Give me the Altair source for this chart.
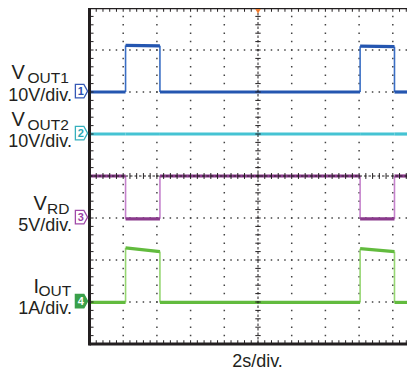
import altair as alt
import pandas as pd

# ---------------- data (screen units: x in divisions of 2 s, y in divisions from bottom) -------------
channels = ["VOUT1", "VOUT2", "VRD", "IOUT"]
edge_times = [1.07, 2.09, 8.03, 9.05]
t_first = 0.0

vout1_from = [6.00, 7.11, 6.00, 7.09, 6.00]
vout1_to = [6.00, 7.10, 6.00, 7.08, 6.00]
vout2_from = [5.00, 5.00, 5.00, 5.00, 5.00]
vout2_to = [5.00, 5.00, 5.00, 5.00, 5.00]
vrd_from = [4.00, 2.98, 4.00, 2.98, 4.00]
vrd_to = [4.00, 2.98, 4.00, 2.98, 4.00]
iout_from = [0.99, 2.29, 0.99, 2.27, 0.99]
iout_to = [0.99, 2.20, 0.99, 2.20, 0.99]

marker_levels = [6.0, 5.0, 3.0, 1.0]
marker_labels = ["1", "2", "3", "4"]

grid_x = [1, 2, 3, 4, 6, 7, 8, 9]
grid_y = [1, 2, 3, 5, 6, 7]
minor_x = [round(0.2 * i, 1) for i in range(1, 49)]
minor_y = [round(0.2 * i, 1) for i in range(1, 40)]

trace_from = {"VOUT1": vout1_from, "VOUT2": vout2_from, "VRD": vrd_from, "IOUT": iout_from}
trace_to = {"VOUT1": vout1_to, "VOUT2": vout2_to, "VRD": vrd_to, "IOUT": iout_to}

# ---------------- styles ----------------
trace_color = {"VOUT1": "#2456b0", "VOUT2": "#45c3d3", "VRD": "#8a3a8c", "IOUT": "#62bb3e"}
edge_color = {"VOUT1": "#3a6ec4", "VOUT2": "#45c3d3", "VRD": "#c582cc", "IOUT": "#96d672"}
marker_fill = ["white", "white", "white", "#3aa04a"]
marker_text = ["#2a4fb0", "#2aa7b5", "#9b3fa5", "white"]
marker_stroke = ["#3558b5", "#35b0bd", "#a04aa8", "#3aa04a"]
INK = "#231f20"
FONT = "Liberation Sans"

W, H = 399, 361
PX_X, PX_Y = 33.7, 42.0
XMIN = -81.5 / PX_X
XMAX = XMIN + W / PX_X
YMIN = 8 - H / PX_Y
t_last = XMAX

XS = alt.Scale(domain=[XMIN, XMAX], nice=False, zero=False)
YS = alt.Scale(domain=[YMIN, 8], nice=False, zero=False)


def xf(f):
    return alt.X(f, type="quantitative", scale=XS, axis=None)


def yf(f):
    return alt.Y(f, type="quantitative", scale=YS, axis=None)


def xd(v):
    return alt.XDatum(v, type="quantitative", scale=XS, axis=None)


def yd(v):
    return alt.YDatum(v, type="quantitative", scale=YS, axis=None)


def rx(px):  # reference pixel -> division
    return (px - 89.5) / PX_X


def ry(py):
    return 8 - (py - 7) / PX_Y


one = pd.DataFrame({"k": [0]})
layers = []

# grid
gx = pd.DataFrame({"v": grid_x})
gy = pd.DataFrame({"v": grid_y})
layers.append(alt.Chart(gx).mark_rule(color="#444", strokeWidth=1.5, strokeDash=[1.5, PX_Y / 5 - 1.5],
                                      strokeDashOffset=0.75)
              .encode(x=xf("v"), y=yd(8), y2=alt.Y2Datum(0)))
layers.append(alt.Chart(gy).mark_rule(color="#444", strokeWidth=1.5, strokeDash=[1.5, PX_X / 5 - 1.5],
                                      strokeDashOffset=0.75)
              .encode(y=yf("v"), x=xd(0), x2=alt.X2Datum(t_last)))

# traces
for ch in channels:
    bounds = [t_first] + edge_times + [t_last]
    f, t = trace_from[ch], trace_to[ch]
    seg = pd.DataFrame({"x": bounds[:-1], "x2": bounds[1:], "y": f, "y2": t})
    ed_rows = [(edge_times[j], t[j], f[j + 1]) for j in range(len(edge_times)) if abs(t[j] - f[j + 1]) > 0.05]
    if ed_rows:
        ed = pd.DataFrame(ed_rows, columns=["x", "y", "y2"])
        layers.append(alt.Chart(ed).mark_rule(color=edge_color[ch], strokeWidth=1.6)
                      .encode(x=xf("x"), y=yf("y"), y2=alt.Y2("y2")))
    layers.append(alt.Chart(seg).mark_rule(color=trace_color[ch], strokeWidth=3.2)
                  .encode(x=xf("x"), x2=alt.X2("x2"), y=yf("y"), y2=alt.Y2("y2")))

# centre crosshair
layers.append(alt.Chart(one).mark_rule(color=INK, strokeWidth=1, strokeDash=[2.5, 2])
              .encode(x=xd(5), y=yd(0), y2=alt.Y2Datum(8)))
layers.append(alt.Chart(one).mark_rule(color=INK, strokeWidth=1, strokeDash=[2.5, 2])
              .encode(y=yd(4), x=xd(0), x2=alt.X2Datum(t_last)))
mx = pd.DataFrame({"v": minor_x})
my = pd.DataFrame({"v": minor_y})
layers.append(alt.Chart(my).mark_rule(color=INK, strokeWidth=1)
              .encode(y=yf("v"), x=xd(5 - 0.08), x2=alt.X2Datum(5 + 0.08)))
layers.append(alt.Chart(mx).mark_rule(color=INK, strokeWidth=1)
              .encode(x=xf("v"), y=yd(4 - 0.07), y2=alt.Y2Datum(4 + 0.07)))

# frame ticks (inward)
layers.append(alt.Chart(my).mark_rule(color=INK, strokeWidth=1)
              .encode(y=yf("v"), x=xd(0), x2=alt.X2Datum(0.12)))
layers.append(alt.Chart(mx).mark_rule(color=INK, strokeWidth=1)
              .encode(x=xf("v"), y=yd(8), y2=alt.Y2Datum(7.91)))
layers.append(alt.Chart(mx).mark_rule(color=INK, strokeWidth=1)
              .encode(x=xf("v"), y=yd(0), y2=alt.Y2Datum(0.09)))

# frame
layers.append(alt.Chart(one).mark_rule(color=INK, strokeWidth=3, strokeCap="square")
              .encode(x=xd(0), y=yd(0), y2=alt.Y2Datum(8)))
layers.append(alt.Chart(one).mark_rule(color=INK, strokeWidth=2.5)
              .encode(y=yd(8), x=xd(0), x2=alt.X2Datum(XMAX)))
layers.append(alt.Chart(one).mark_rule(color=INK, strokeWidth=3)
              .encode(y=yd(0), x=xd(0), x2=alt.X2Datum(XMAX)))

# trigger marker
layers.append(alt.Chart(one).mark_point(shape="triangle-down", size=30, filled=True, color="#ef7b2d", opacity=1)
              .encode(x=xd(5), y=yd(7.92)))

# channel markers
tag_shape = "M-0.9,-1 L0.35,-1 L0.9,0 L0.35,1 L-0.9,1 Z"
for i, lev in enumerate(marker_levels):
    layers.append(alt.Chart(one).mark_point(shape=tag_shape, size=185, filled=True, fill=marker_fill[i],
                                            stroke=marker_stroke[i], strokeWidth=1.3, opacity=1)
                  .encode(x=xd(rx(81.5)), y=yd(lev + 0.02)))
    layers.append(alt.Chart(one).mark_text(text=marker_labels[i], font=FONT, fontSize=11, fontWeight="bold",
                                           color=marker_text[i], baseline="middle", align="center")
                  .encode(x=xd(rx(80.8)), y=yd(lev + 0.01)))


def lbl(text, px, py, size, align):
    return (alt.Chart(one).mark_text(text=text, font=FONT, fontSize=size, color=INK, align=align,
                                     baseline="alphabetic")
            .encode(x=xd(rx(px)), y=yd(ry(py))))


labels = [
    ("V", 11.5, 78, 20, "left"), ("OUT1", 27.5, 82, 15.5, "left"), ("10V/div.", 72, 99.5, 18, "right"),
    ("V", 11.5, 125, 20, "left"), ("OUT2", 27.5, 129, 15.5, "left"), ("10V/div.", 72, 146, 18, "right"),
    ("V", 33.5, 209, 20, "left"), ("RD", 47, 213, 15.5, "left"), ("5V/div.", 72, 229.5, 18, "right"),
    ("I", 33.5, 292, 20, "left"), ("OUT", 38.5, 295, 15.5, "left"), ("1A/div.", 72, 313, 18, "right"),
    ("2s/div.", 257.5, 365.5, 18, "center"),
]
for t in labels:
    layers.append(lbl(*t))

chart = (alt.layer(*layers)
         .properties(width=W, height=H, autosize=alt.AutoSizeParams(type="none"), padding=0,
                     background="white")
         .configure_view(stroke=None))

chart.save("out.html", embed_options={"renderer": "svg", "actions": False})
